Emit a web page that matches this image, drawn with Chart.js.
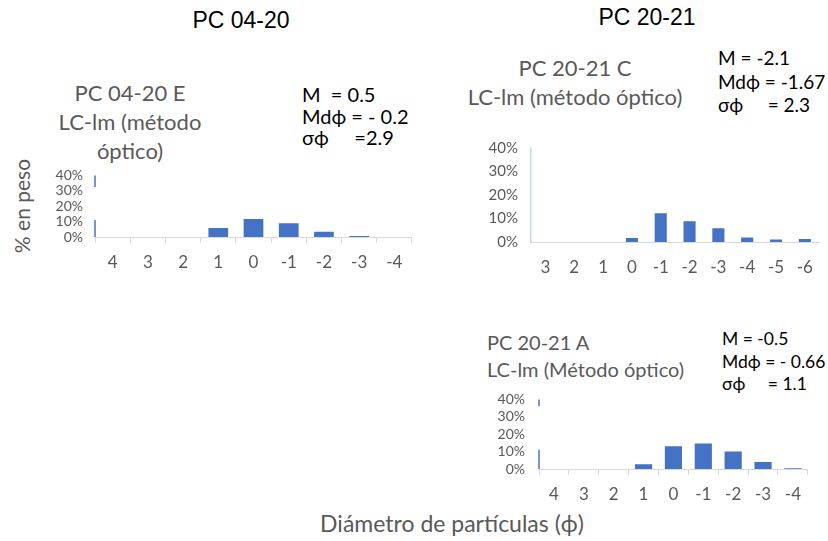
<!DOCTYPE html>
<html>
<head>
<meta charset="utf-8">
<script src="https://cdn.jsdelivr.net/npm/chart.js@4.4.1/dist/chart.umd.min.js"></script>
<style>
  html, body { margin: 0; padding: 0; background: #ffffff; }
  body { width: 828px; height: 541px; position: relative; overflow: hidden; font-family: Lato, "Noto Sans", sans-serif; }
  .abs { position: absolute; white-space: pre; }
  .head { font-family: "Liberation Sans", Arial, sans-serif; font-size: 23px; color: #000; line-height: 26px; }
  .ttl { color: #595959; font-size: 22px; line-height: 29px; text-align: center; }
  .stats { color: #000; font-size: 19px; }
  .cv { position: absolute; }
</style>
</head>
<body>
<div class="abs head" style="left:141px;top:7px;width:200px;text-align:center;">PC 04-20</div>
<div class="abs head" style="left:547px;top:4px;width:200px;text-align:center;">PC 20-21</div>

<div class="abs ttl" style="left:30px;top:78px;width:200px;">PC 04-20 E
LC-lm (método
óptico)</div>
<div class="abs stats" style="left:302px;top:84px;line-height:21.5px;font-size:20px;">M  = 0.5
Mdϕ = - 0.2
σϕ     =2.9</div>

<div class="abs ttl" style="left:425px;top:53px;width:300px;">PC 20-21 C
LC-lm (método óptico)</div>
<div class="abs stats" style="left:718px;top:46px;line-height:23.5px;">M = -2.1
Mdϕ = -1.67
σϕ     = 2.3</div>

<div class="abs ttl" style="left:487px;top:329px;font-size:20px;line-height:27px;text-align:left;">PC 20-21 A
LC-lm (Método óptico)</div>
<div class="abs stats" style="left:722px;top:328px;line-height:22.5px;font-size:17.5px;">M = -0.5
Mdϕ = - 0.66
σϕ     = 1.1</div>

<div class="abs" style="left:252px;top:509px;width:400px;text-align:center;font-size:23px;line-height:28px;color:#595959;">Diámetro de partículas (ϕ)</div>
<div class="abs" style="left:-38px;top:192px;width:120px;text-align:center;font-size:21px;line-height:28px;color:#595959;transform:rotate(-90deg);">% en peso</div>

<canvas id="c1" class="cv" style="left:50px;top:155px;" width="362" height="122"></canvas>
<canvas id="c2" class="cv" style="left:470px;top:126px;" width="358" height="156"></canvas>
<canvas id="c3" class="cv" style="left:490px;top:377px;" width="320" height="132"></canvas>

<script>
// Grain-size classes (phi units) and weight percentages per sample
const phiE = ['4', '3', '2', '1', '0', '-1', '-2', '-3', '-4'];
const pctE = [0, 0, 0, 5.9, 11.7, 9.0, 3.4, 0.6, 0];

const phiC = ['3', '2', '1', '0', '-1', '-2', '-3', '-4', '-5', '-6'];
const pctC = [0, 0, 0, 1.7, 12.2, 8.8, 5.8, 1.9, 1.1, 1.3];

const phiA = ['4', '3', '2', '1', '0', '-1', '-2', '-3', '-4'];
const pctA = [0, 0, 0, 2.7, 13.1, 14.6, 10.0, 4.0, 0.5];

// Percentage axis ticks
const yTicks = [0, 10, 20, 30, 40];

const BAR = '#4472C4';
const GREY_TXT = '#595959';
const AXIS = '#d9d9d9';
const FONT = 'Lato, "Noto Sans", sans-serif';

// Draws the vertical axis as separate stretches between given percentage values
const axisSegments = {
  id: 'axisSegments',
  afterDatasetsDraw(chart, args, opts) {
    if (!opts.segments) return;
    const y = chart.scales.y, x = chart.chartArea.left;
    const ctx = chart.ctx;
    ctx.save();
    ctx.strokeStyle = opts.color;
    ctx.lineWidth = opts.width || 1.5;
    opts.segments.forEach(([a, b]) => {
      ctx.beginPath();
      ctx.moveTo(x, y.getPixelForValue(a));
      ctx.lineTo(x, y.getPixelForValue(b));
      ctx.stroke();
    });
    ctx.restore();
  }
};

function histogram(id, labels, values, o) {
  new Chart(document.getElementById(id), {
    type: 'bar',
    data: {
      labels: labels,
      datasets: [{ data: values, backgroundColor: BAR, borderWidth: 0,
                   barPercentage: o.barPct, categoryPercentage: 1 }]
    },
    options: {
      responsive: false,
      animation: false,
      layout: { padding: { top: 0, right: o.padRight || 0, left: 0, bottom: 0 } },
      plugins: {
        legend: { display: false }, tooltip: { enabled: false },
        axisSegments: { segments: o.segments, color: o.yColor }
      },
      scales: {
        x: {
          grid: { display: true, drawOnChartArea: false, drawTicks: o.xTicks, tickLength: 6, color: AXIS, offset: true },
          border: { display: true, color: AXIS, width: 1 },
          ticks: { color: GREY_TXT, font: { family: FONT, size: 17 }, padding: o.xPad, maxRotation: 0, autoSkip: false },
          afterFit: s => { s.height = 40; }
        },
        y: {
          min: 0, max: 40,
          afterBuildTicks: s => { s.ticks = yTicks.map(v => ({ value: v })); },
          grid: { display: false, drawTicks: false },
          border: { display: !o.segments, color: o.yColor, width: 1.5 },
          ticks: { color: GREY_TXT, font: { family: FONT, size: o.ySize }, padding: o.yPad, autoSkip: false,
                   callback: v => v + '%' },
          afterFit: s => { s.width = o.yWidth; }
        }
      }
    },
    plugins: [axisSegments]
  });
}

histogram('c1', phiE, pctE, { barPct: 0.56, yWidth: 45, yPad: 12, ySize: 14, xPad: 9, xTicks: true,
  yColor: '#4472C4', segments: [[40, 32.5], [11, 0]] });
histogram('c2', phiC, pctC, { barPct: 0.42, yWidth: 61, yPad: 13, ySize: 15, xPad: 15, xTicks: false,
  yColor: '#c9d6ec', padRight: 1 });
histogram('c3', phiA, pctA, { barPct: 0.575, yWidth: 49, yPad: 14, ySize: 14, xPad: 9, xTicks: true,
  yColor: '#4472C4', segments: [[40, 36], [11, 0]] });
</script>
</body>
</html>
